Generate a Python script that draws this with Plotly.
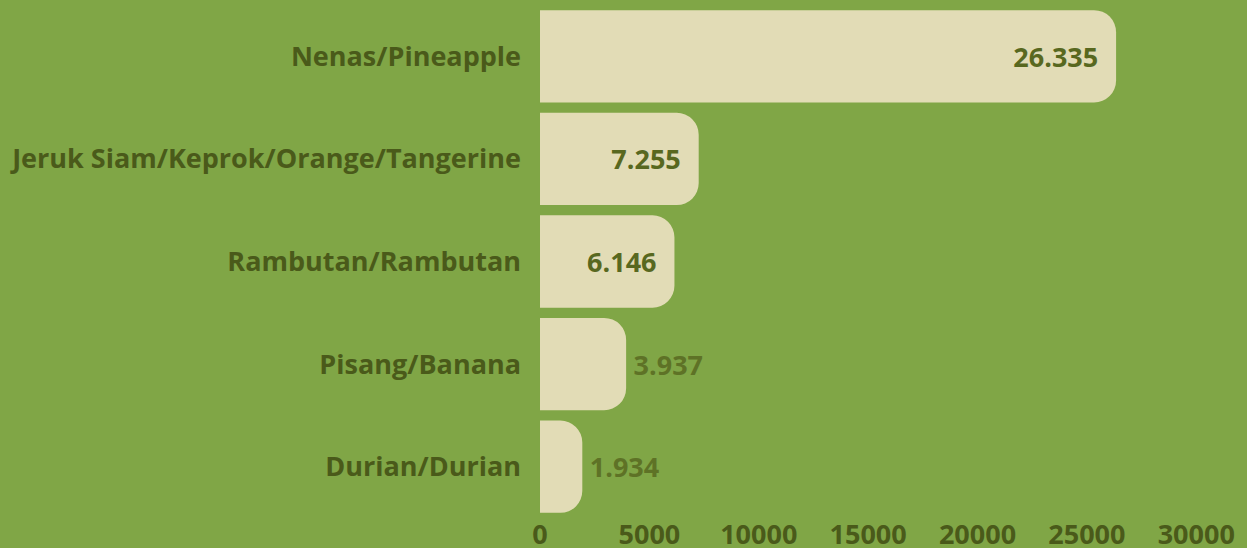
import plotly.graph_objects as go

categories = ["Nenas/Pineapple", "Jeruk Siam/Keprok/Orange/Tangerine", "Rambutan/Rambutan", "Pisang/Banana", "Durian/Durian"]
values = [26335, 7255, 6146, 3937, 1934]
positions = ["inside", "inside", "inside", "outside", "outside"]
tick_vals = [0, 5000, 10000, 15000, 20000, 25000, 30000]

NB = "\u00a0"
labels = []
for v, p in zip(values, positions):
    s = f"{v:,}".replace(",", ".")
    labels.append(s + NB * 2 if p == "inside" else "\u2009" + s)

BG = "#80a646"
BAR = "#e2dcb6"
DARK = "#4a5a1a"
FS = 27

fig = go.Figure(go.Bar(
    y=categories, x=values, orientation="h",
    marker=dict(color=BAR, line=dict(width=0)),
    text=labels, textposition=positions,
    insidetextanchor="end",
    insidetextfont=dict(family="Open Sans", size=FS, color="#58681f", weight="bold"),
    outsidetextfont=dict(family="Open Sans", size=FS, color="#5e7226", weight="bold"),
    cliponaxis=False,
))

fig.update_layout(
    width=1247, height=548,
    paper_bgcolor=BG, plot_bgcolor=BG,
    margin=dict(l=540, r=7, t=5, b=30, autoexpand=False),
    bargap=0.1,
    barcornerradius=22,
    showlegend=False,
    font=dict(family="Open Sans", color=DARK),
    xaxis=dict(range=[0, 32000], tickvals=tick_vals, tickformat="d", showgrid=False, zeroline=False,
               showline=False, automargin=False, ticklabelstandoff=-2,
               tickfont=dict(size=FS, color=DARK, weight="bold")),
    yaxis=dict(autorange="reversed", showgrid=False, zeroline=False, showline=False,
               automargin=False, ticklabelstandoff=18,
               tickfont=dict(size=FS, color=DARK, weight="bold")),
)

fig.write_html("out.html", config={"displayModeBar": False},
               post_script="document.body.style.margin='0';document.body.style.overflow='hidden';")
